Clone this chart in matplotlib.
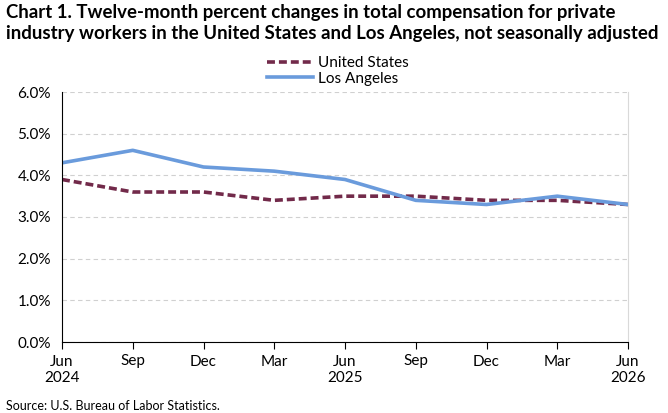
import matplotlib.pyplot as plt
from matplotlib.ticker import FuncFormatter

plt.rcParams['font.family'] = ['Lato', 'DejaVu Sans']

quarters = ["Jun\n2024", "Sep", "Dec", "Mar", "Jun\n2025", "Sep", "Dec", "Mar", "Jun\n2026"]
us_values = [3.9, 3.6, 3.6, 3.4, 3.5, 3.5, 3.4, 3.4, 3.3]
la_values = [4.3, 4.6, 4.2, 4.1, 3.9, 3.4, 3.3, 3.5, 3.3]

fig = plt.figure(figsize=(6.68, 4.13), dpi=100)
ax = fig.add_axes([62 / 668, 1 - 342 / 413, 566 / 668, 250 / 413])

x = list(range(len(quarters)))
ax.plot(x, us_values, color="#722a4a", lw=2.6, ls=(0, (2.2, 1.1)), label="United States")
ax.plot(x, la_values, color="#6a9bdc", lw=2.6, label="Los Angeles")

ax.set_xlim(0, len(quarters) - 1)
ax.set_ylim(0, 6)
ax.set_yticks([0, 1, 2, 3, 4, 5, 6])
ax.yaxis.set_major_formatter(FuncFormatter(lambda v, p: f"{v:.1f}%"))
ax.set_xticks(x)
ax.set_xticklabels(quarters)
ax.grid(axis="y", color="#d0d0d0", ls=(0, (4, 3)), lw=0.8)
ax.set_axisbelow(True)

ax.spines["top"].set_visible(False)
ax.spines["right"].set_color("#d9d9d9")
ax.spines["left"].set_color("black")
ax.spines["bottom"].set_color("black")
ax.tick_params(axis="y", length=0, labelsize=11, pad=8)
ax.tick_params(axis="x", length=5, direction="out", labelsize=11, pad=4)

fig.text(6 / 668, 1 - 4 / 413,
         "Chart 1. Twelve-month percent changes in total compensation for private\n"
         "industry workers in the United States and Los Angeles, not seasonally adjusted",
         ha="left", va="top", fontsize=13.4, fontweight="bold", linespacing=1.25)

fig.legend(loc="center", bbox_to_anchor=(338 / 668, 1 - 71 / 413), frameon=False,
           fontsize=11, handlelength=3, labelspacing=0.1, borderpad=0, handletextpad=0.3)

fig.text(6 / 668, 1 - 406 / 413, "Source: U.S. Bureau of Labor Statistics.", fontsize=9,
         ha="left", va="center")

fig.savefig("out.png", dpi=100)
